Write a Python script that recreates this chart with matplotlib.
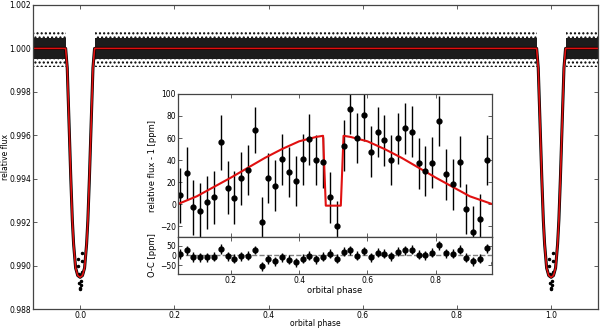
import matplotlib
matplotlib.use('Agg')
import matplotlib.pyplot as plt
import numpy as np

plt.rcParams['hatch.linewidth'] = 1.0

# primary eclipse profile: phase offset from mid-eclipse -> relative flux
ecl_dphase = [-0.0307, -0.0273, -0.0237, -0.0197, -0.0165, -0.0138, -0.0095, -0.005, 0.0,
              0.005, 0.0095, 0.0138, 0.0165, 0.0197, 0.0237, 0.0273, 0.0307]
ecl_flux = [1.0000, 0.9991, 0.9967, 0.9940, 0.9921, 0.9910, 0.9899, 0.98955, 0.98947,
            0.98955, 0.9899, 0.9910, 0.9921, 0.9940, 0.9967, 0.9991, 1.0000]
ecl_centers = [0.0, 1.0]

# out-of-eclipse scatter of the photometry (dense core / sparse edge)
band_inner = [0.99950, 1.00048]
band_outer = [0.99915, 1.00080]

# points scattered around the bottom of the eclipse
bottom_dphase = [-0.004, -0.003, -0.002, -0.001, 0.0, 0.001, 0.002, 0.003, 0.004, 0.005, -0.005]
bottom_flux = [0.9900, 0.9896, 0.9892, 0.9890, 0.98895, 0.9891, 0.9893, 0.9897, 0.9902, 0.9906, 0.9903]

# inset: binned secondary eclipse / phase curve [ppm]
bin_phase = [0.05, 0.07, 0.09, 0.11, 0.13, 0.15, 0.17, 0.19, 0.21, 0.23, 0.25, 0.27,
             0.29, 0.31, 0.33, 0.35, 0.37, 0.39, 0.41, 0.43, 0.45, 0.47, 0.49, 0.51,
             0.53, 0.55, 0.57, 0.59, 0.61, 0.63, 0.65, 0.67, 0.69, 0.71, 0.73, 0.75,
             0.77, 0.79, 0.81, 0.83, 0.85, 0.87, 0.89, 0.91, 0.93, 0.95, 0.97]
bin_flux = [8, 28, -3, -6, 1.5, 6, 56, 15, 5.7, 23.5, 31, 67,
            -16.6, 23.5, 16.6, 40.7, 29, 21, 40.7, 58.8, 40, 38, 6, -20,
            53, 86.6, 60, 80.5, 47.6, 65.4, 58, 40, 59.7, 68.8, 65.8, 37,
            30, 37.7, 75.4, 27, 18, 38.6, -4.5, -25, -14, 40, -40]
bin_err = [25, 24, 25, 25, 24, 24, 25, 24, 24, 24, 23, 21,
           23, 23, 23, 23, 23, 23, 23, 23, 23, 23, 23, 23,
           23, 23, 23, 23, 23, 23, 23, 23, 23, 23, 23, 23,
           23, 23, 23, 23, 23, 23, 23, 23, 23, 23, 23]
resid = [6, 26, -8, -10, -9, -6, 35, -4, -16, -4, -1, 29,
         -55, -20, -29, -8, -21, -34, -17, -2, -20, -7, 9, -17,
         19, 26, -2, 23, -8, 13, 8, -4, 20, 28, 30, 5,
         2, 13, 53, 11, 8, 29, -12, -29, -16, 38, -38]

model_phase = [0.045, 0.10, 0.15, 0.20, 0.25, 0.30, 0.35, 0.40, 0.45, 0.47, 0.478,
               0.522, 0.53, 0.55, 0.60, 0.65, 0.70, 0.75, 0.80, 0.85, 0.90, 0.965]
model_ppm = [0, 7, 15.5, 24, 33, 42, 50, 57, 61, 62, -1.5,
             -1.5, 62, 61, 57, 50, 42, 33, 24, 15.5, 7, 0]

fig = plt.figure(figsize=(6, 3.29), dpi=100)

# ---- main light curve
ax = fig.add_axes([0.055, 0.06, 0.942, 0.925])
xs = [-0.1]
ys = [1.0]
for c in ecl_centers:
    xs += [c + d for d in ecl_dphase]
    ys += ecl_flux
xs.append(1.1)
ys.append(1.0)

segs = [(-0.1, ecl_centers[0] + ecl_dphase[0]),
        (ecl_centers[0] + ecl_dphase[-1], ecl_centers[1] + ecl_dphase[0]),
        (ecl_centers[1] + ecl_dphase[-1], 1.1)]
for a, b in segs:
    ax.fill_between([a, b], band_outer[0], band_outer[1], facecolor='none',
                    edgecolor='k', hatch='....', linewidth=0)
    ax.fill_between([a, b], band_inner[0], band_inner[1], color='#1c1c1c', linewidth=0)

ax.plot(xs, ys, color='k', lw=2.2)
for c in ecl_centers:
    ax.plot([c + d for d in bottom_dphase], bottom_flux, 'k.', ms=3)
ax.plot(xs, ys, color='#e01010', lw=1.2)

ax.set_xlim(-0.1, 1.1)
ax.set_ylim(0.988, 1.002)
ax.set_xticks([0.0, 0.2, 0.4, 0.6, 0.8, 1.0])
ax.set_yticks([0.988, 0.990, 0.992, 0.994, 0.996, 0.998, 1.000, 1.002])
ax.yaxis.set_major_formatter(matplotlib.ticker.FormatStrFormatter('%.3f'))
ax.set_xlabel('orbital phase', fontsize=5.5, labelpad=-1)
ax.set_ylabel('relative flux', fontsize=5.5, labelpad=-1)

# ---- inset: phase curve
axi = fig.add_axes([0.2967, 0.2796, 0.5233, 0.4347])
axi.errorbar(bin_phase, bin_flux, yerr=bin_err, fmt='o', color='k', ms=3.5,
             elinewidth=1, capsize=0)
axi.plot(model_phase, model_ppm, color='#e01010', lw=1.5)
axi.set_xlim(0.045, 0.965)
axi.set_ylim(-30, 100)
axi.set_xticks([0.2, 0.4, 0.6, 0.8])
axi.set_xticklabels([])
axi.set_yticks([-20, 0, 20, 40, 60, 80, 100])
axi.set_ylabel('relative flux - 1 [ppm]', fontsize=6, labelpad=2)

# ---- inset: residuals
axr = fig.add_axes([0.2967, 0.1672, 0.5233, 0.1125])
axr.axhline(0, color='gray', ls='--', lw=1)
axr.errorbar(bin_phase, resid, yerr=bin_err, fmt='o', color='k', ms=3.5,
             elinewidth=1, capsize=0)
axr.set_xlim(0.045, 0.965)
axr.set_ylim(-95, 95)
axr.set_xticks([0.2, 0.4, 0.6, 0.8])
axr.set_yticks([-50, 0, 50])
axr.set_xlabel('orbital phase', fontsize=6, labelpad=1)
axr.set_ylabel('O-C [ppm]', fontsize=6, labelpad=2)

for a in (ax, axi, axr):
    a.tick_params(direction='in', top=True, right=True, length=3, width=0.6,
                  labelsize=5.5, pad=1.5, color='#444')
    for s in a.spines.values():
        s.set_color('#444')
        s.set_linewidth(0.9)

fig.savefig('out.png', dpi=100)
